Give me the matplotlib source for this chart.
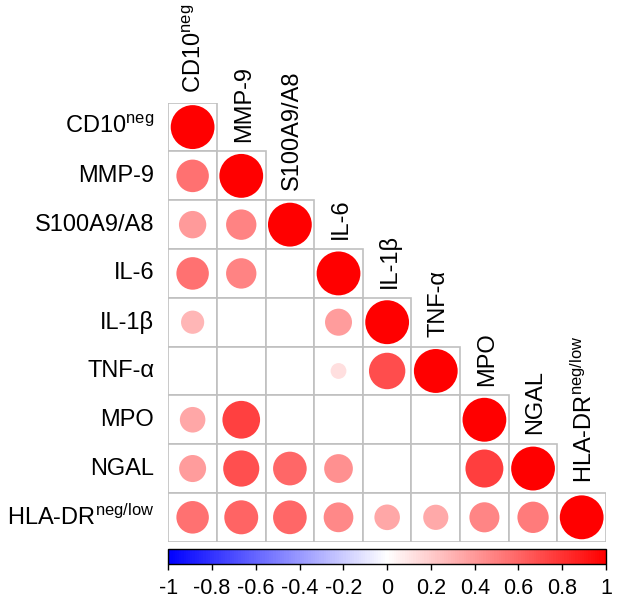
import numpy as np
import matplotlib
matplotlib.use("Agg")
import matplotlib.pyplot as plt
from matplotlib.colors import LinearSegmentedColormap, Normalize
from matplotlib.patches import Circle, Rectangle
import matplotlib.colorbar as mcolorbar

plt.rcParams['font.family'] = ['Liberation Sans', 'DejaVu Sans']
plt.rcParams['mathtext.fontset'] = 'custom'
plt.rcParams['mathtext.rm'] = 'Liberation Sans'
plt.rcParams['mathtext.it'] = 'Liberation Sans:italic'
plt.rcParams['mathtext.bf'] = 'Liberation Sans:bold'

labels = ["CD10$^{\\mathrm{neg}}$", "MMP-9", "S100A9/A8", "IL-6", "IL-1β",
          "TNF-α", "MPO", "NGAL", "HLA-DR$^{\\mathrm{neg/low}}$"]

nan = np.nan
row_cd10 = [1.00]
row_mmp9 = [0.55, 1.00]
row_s100 = [0.39, 0.48, 1.00]
row_il6 = [0.55, 0.48, nan, 1.00]
row_il1b = [0.28, nan, nan, 0.38, 1.00]
row_tnfa = [nan, nan, nan, 0.13, 0.69, 1.00]
row_mpo = [0.34, 0.74, nan, nan, nan, nan, 1.00]
row_ngal = [0.38, 0.68, 0.59, 0.43, nan, nan, 0.75, 1.00]
row_hla = [0.55, 0.60, 0.59, 0.46, 0.34, 0.33, 0.47, 0.51, 1.00]
rows = [row_cd10, row_mmp9, row_s100, row_il6, row_il1b, row_tnfa,
        row_mpo, row_ngal, row_hla]

cbar_ticks = [-1, -0.8, -0.6, -0.4, -0.2, 0, 0.2, 0.4, 0.6, 0.8, 1]
cbar_ticklabels = ["-1", "-0.8", "-0.6", "-0.4", "-0.2", "0", "0.2", "0.4", "0.6", "0.8", "1"]

W, H = 617, 601
fig = plt.figure(figsize=(W / 100, H / 100), dpi=100)

n = len(labels)
gx0, gx1, gy0, gy1 = 168.3, 606.0, 102.7, 541.7
ax = fig.add_axes([gx0 / W, 1 - gy1 / H, (gx1 - gx0) / W, (gy1 - gy0) / H])
ax.set_xlim(0, n)
ax.set_ylim(n, 0)
ax.axis('off')

cmap = LinearSegmentedColormap.from_list("bwr2", ["#0000FF", "#FFFFFF", "#FF0000"], N=200)
norm = Normalize(-1, 1)

grid_col = "#C0C0C0"
for i, row in enumerate(rows):
    for j, v in enumerate(row):
        ax.add_patch(Rectangle((j, i), 1, 1, facecolor='white', edgecolor=grid_col,
                               linewidth=1.2, zorder=1))
for i, row in enumerate(rows):
    for j, v in enumerate(row):
        if np.isnan(v):
            continue
        r = 0.45 * np.sqrt(abs(v))
        ax.add_patch(Circle((j + 0.5, i + 0.5), r, facecolor=cmap(norm(v)),
                            edgecolor='none', zorder=2))

fs = 17
for i, lab in enumerate(labels):
    ax.text(-0.29, i + 0.5, lab, ha='right', va='center', fontsize=fs, clip_on=False)
    ax.text(i + 0.55, i - 0.2, lab, ha='center', va='bottom', rotation=90,
            fontsize=fs, clip_on=False)

# colorbar
cx0, cx1, cy0, cy1 = 168.3, 606.0, 549.3, 564.3
cax = fig.add_axes([cx0 / W, 1 - cy1 / H, (cx1 - cx0) / W, (cy1 - cy0) / H])
cb = mcolorbar.ColorbarBase(cax, cmap=cmap, norm=norm, orientation='horizontal',
                            ticks=cbar_ticks)
cb.set_ticklabels(cbar_ticklabels)
cb.outline.set_linewidth(1.0)
cax.tick_params(axis='x', direction='out', length=4, width=1, labelsize=15.5, pad=6)

fig.savefig("out.png", dpi=100)
